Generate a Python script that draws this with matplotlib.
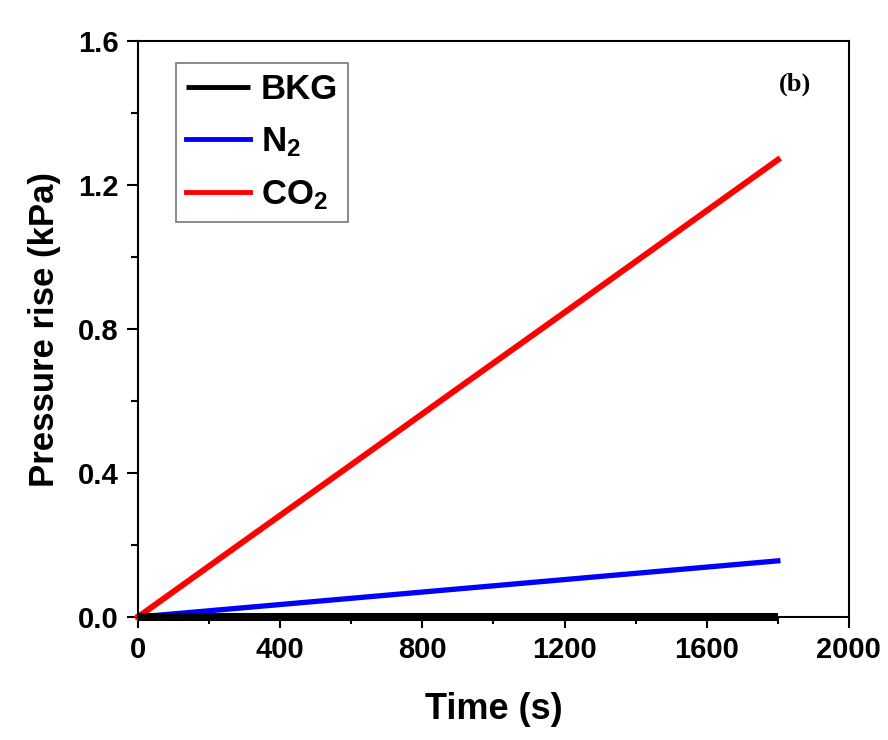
import matplotlib
matplotlib.use("Agg")
import matplotlib.pyplot as plt
from matplotlib.ticker import MultipleLocator

time_s = [0, 300, 600, 900, 1200, 1500, 1800]
bkg = [0.0, 0.0, 0.0, 0.0, 0.0, 0.0, 0.0]
n2 = [0.0, 0.026, 0.052, 0.078, 0.104, 0.130, 0.156]
co2 = [0.0, 0.212, 0.423, 0.635, 0.846, 1.058, 1.270]

plt.rcParams['font.family'] = ['Liberation Sans', 'DejaVu Sans']
plt.rcParams['mathtext.fontset'] = 'custom'
plt.rcParams['mathtext.rm'] = 'Liberation Sans:bold'
plt.rcParams['mathtext.it'] = 'Liberation Sans:bold'
plt.rcParams['mathtext.bf'] = 'Liberation Sans:bold'
plt.rcParams['mathtext.default'] = 'rm'

fig = plt.figure(figsize=(8.88, 7.4), dpi=100)
ax = fig.add_axes([0.1554, 0.1662, 0.8006, 0.7784])

ax.plot(time_s, bkg, color='black', lw=5.8, label='BKG', solid_capstyle='butt', clip_on=False, zorder=3)
ax.plot(time_s, n2, color='#0000ff', lw=3.8, label='N$_2$', clip_on=False, zorder=2)
ax.plot(time_s, co2, color='#ff0000', lw=4.3, label='CO$_2$', clip_on=False, zorder=2)

ax.set_xlim(0, 2000)
ax.set_ylim(0, 1.6)
ax.xaxis.set_major_locator(MultipleLocator(400))
ax.xaxis.set_minor_locator(MultipleLocator(200))
ax.yaxis.set_major_locator(MultipleLocator(0.4))
ax.yaxis.set_minor_locator(MultipleLocator(0.2))
ax.yaxis.set_major_formatter(matplotlib.ticker.FormatStrFormatter('%.1f'))
ax.tick_params(which='major', direction='out', length=8, width=1.5, labelsize=21, pad=6)
ax.tick_params(which='minor', direction='out', length=5, width=1.5)
for lab in ax.get_xticklabels() + ax.get_yticklabels():
    lab.set_fontweight('bold')
for s in ax.spines.values():
    s.set_linewidth(1.5)

ax.set_xlabel('Time (s)', fontsize=26, fontweight='bold', labelpad=20)
ax.set_ylabel('Pressure rise (kPa)', fontsize=25, fontweight='bold', labelpad=12)

leg = ax.legend(loc='upper left', bbox_to_anchor=(0.053, 0.962),
                prop={'weight': 'bold', 'size': 25}, frameon=True, fancybox=False,
                edgecolor='#555555', handlelength=1.85, handletextpad=0.3,
                borderpad=0.3, labelspacing=0.55, borderaxespad=0)
leg.get_frame().set_linewidth(1.2)
for line in leg.get_lines():
    line.set_linewidth(3.5)

ax.text(0.924, 0.925, '(b)', transform=ax.transAxes, fontsize=19, fontweight='bold',
        family='Liberation Serif', ha='center', va='center')

fig.savefig('out.png', dpi=100)
